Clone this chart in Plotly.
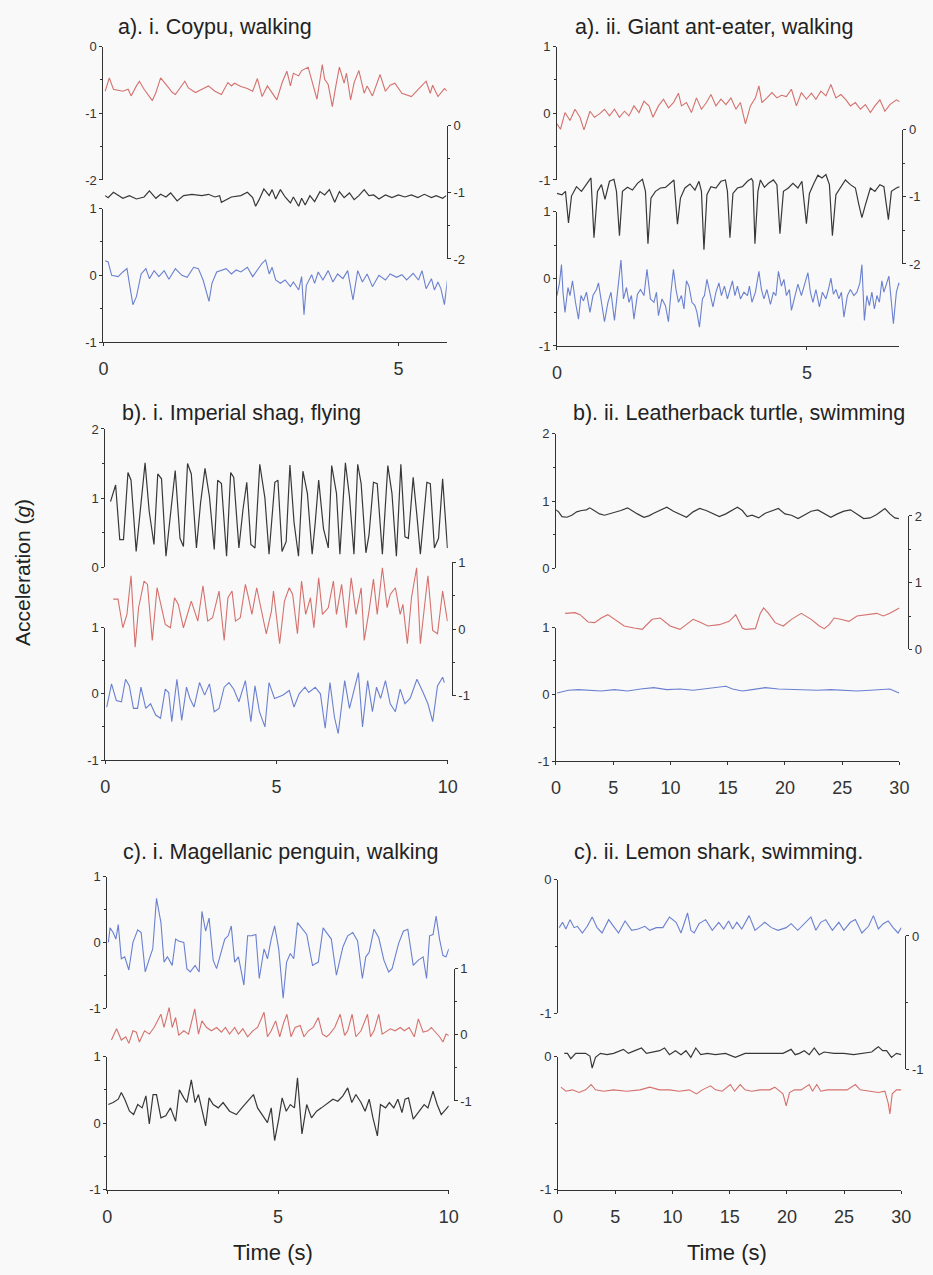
import plotly.graph_objects as go

W, H = 933, 1275

# ------------------------------------------------------------------ data
# a) i. Coypu, walking
coypu_t_red = [0.03,0.10,0.17,0.33,0.42,0.47,0.56,0.61,0.69,0.83,0.89,0.97,1.08,1.17,1.22,1.28,1.38,1.44,1.56,1.67,1.78,1.89,2.00,2.11,2.17,2.22,2.33,2.44,2.53,2.61,2.69,2.78,2.86,2.94,3.03,3.11,3.17,3.22,3.31,3.36,3.47,3.56,3.62,3.71,3.75,3.81,3.88,3.94,4.00,4.08,4.12,4.19,4.25,4.33,4.42,4.47,4.56,4.69,4.78,4.86,4.94,5.06,5.22,5.36,5.47,5.54,5.58,5.67,5.78,5.83]
coypu_red = [-0.67,-0.47,-0.64,-0.67,-0.64,-0.74,-0.59,-0.52,-0.64,-0.81,-0.69,-0.47,-0.59,-0.69,-0.72,-0.64,-0.52,-0.62,-0.69,-0.64,-0.59,-0.67,-0.72,-0.54,-0.59,-0.55,-0.60,-0.63,-0.67,-0.48,-0.75,-0.59,-0.70,-0.80,-0.54,-0.37,-0.59,-0.40,-0.44,-0.36,-0.31,-0.59,-0.79,-0.27,-0.49,-0.57,-0.90,-0.59,-0.31,-0.55,-0.40,-0.80,-0.54,-0.36,-0.70,-0.59,-0.74,-0.42,-0.67,-0.58,-0.55,-0.70,-0.75,-0.62,-0.52,-0.70,-0.58,-0.75,-0.63,-0.67]
coypu_t_black = [0.03,0.08,0.17,0.25,0.33,0.44,0.56,0.69,0.78,0.89,0.97,1.06,1.14,1.25,1.36,1.50,1.67,1.78,1.89,1.97,2.00,2.17,2.33,2.44,2.53,2.58,2.64,2.72,2.81,2.86,2.92,3.00,3.08,3.17,3.22,3.31,3.36,3.42,3.50,3.58,3.67,3.75,3.83,3.92,4.00,4.08,4.17,4.25,4.33,4.42,4.50,4.58,4.67,4.78,4.89,5.00,5.11,5.22,5.33,5.44,5.56,5.64,5.75,5.81]
coypu_black = [-1.05,-1.08,-1.00,-1.05,-1.09,-1.05,-1.10,-1.07,-0.98,-1.09,-1.03,-1.07,-1.01,-1.13,-1.05,-1.03,-1.05,-1.03,-1.07,-1.05,-1.15,-1.07,-1.05,-1.00,-1.08,-1.21,-1.11,-0.95,-1.05,-0.96,-1.10,-0.96,-1.07,-1.16,-1.07,-1.21,-1.09,-1.19,-1.05,-1.14,-0.99,-1.04,-0.96,-1.15,-0.99,-1.08,-1.01,-1.11,-1.05,-0.96,-1.05,-1.04,-1.10,-1.04,-1.08,-1.04,-1.07,-1.04,-1.08,-1.03,-1.08,-1.05,-1.09,-1.05]
coypu_t_blue = [0.03,0.08,0.14,0.25,0.33,0.40,0.44,0.50,0.56,0.64,0.72,0.78,0.86,0.94,1.03,1.11,1.22,1.33,1.42,1.53,1.61,1.69,1.79,1.84,1.92,2.00,2.08,2.17,2.25,2.33,2.44,2.53,2.61,2.69,2.75,2.81,2.86,2.92,3.00,3.08,3.17,3.22,3.31,3.36,3.40,3.44,3.53,3.58,3.64,3.72,3.81,3.89,3.97,4.06,4.14,4.23,4.31,4.39,4.47,4.56,4.67,4.78,4.86,4.97,5.06,5.14,5.25,5.34,5.40,5.47,5.56,5.61,5.67,5.72,5.78,5.83]
coypu_blue = [0.22,0.20,0.00,-0.02,0.05,0.10,-0.12,-0.44,-0.32,0.02,0.10,-0.05,0.07,-0.02,0.07,-0.06,0.10,0.00,-0.03,0.12,0.10,-0.07,-0.39,-0.12,0.05,0.07,0.10,0.02,0.08,0.05,0.12,-0.02,0.08,0.18,0.23,0.02,0.12,-0.07,-0.12,-0.07,-0.17,-0.10,-0.22,-0.02,-0.59,-0.15,0.01,-0.12,0.05,-0.07,0.07,-0.10,0.02,-0.05,0.07,-0.37,0.07,-0.10,0.02,-0.17,0.00,-0.07,0.02,-0.03,0.01,-0.07,0.03,-0.07,0.07,-0.20,-0.05,-0.22,-0.10,-0.20,-0.44,-0.07]

# a) ii. Giant ant-eater, walking
anteater_t_red = [0.00,0.07,0.16,0.26,0.36,0.46,0.54,0.66,0.75,0.85,0.95,1.05,1.15,1.25,1.35,1.44,1.54,1.64,1.74,1.84,1.92,2.03,2.13,2.23,2.33,2.43,2.49,2.59,2.69,2.79,2.89,2.99,3.08,3.18,3.28,3.38,3.48,3.58,3.67,3.77,3.87,3.97,4.04,4.10,4.20,4.30,4.40,4.49,4.59,4.69,4.79,4.89,4.99,5.09,5.18,5.28,5.38,5.48,5.58,5.68,5.77,5.87,5.97,6.07,6.17,6.27,6.36,6.46,6.56,6.66,6.79,6.89]
anteater_red = [-0.16,-0.24,0.01,-0.11,0.06,-0.06,-0.25,0.03,-0.06,-0.01,0.06,-0.04,0.06,-0.06,0.03,-0.04,0.11,0.01,0.18,0.11,-0.06,0.11,0.21,0.08,0.16,0.30,0.11,0.16,0.01,0.23,0.06,0.16,0.28,0.11,0.21,0.13,0.23,0.06,0.16,-0.16,0.11,0.23,0.41,0.16,0.23,0.31,0.23,0.27,0.25,0.36,0.11,0.31,0.21,0.30,0.21,0.33,0.26,0.43,0.23,0.28,0.21,0.11,0.16,0.06,0.13,0.01,0.11,0.20,0.03,0.13,0.20,0.16]
anteater_t_black = [0.00,0.10,0.17,0.23,0.29,0.39,0.49,0.59,0.68,0.74,0.81,0.89,0.96,1.05,1.14,1.19,1.25,1.31,1.41,1.51,1.61,1.71,1.77,1.82,1.88,1.97,2.07,2.17,2.26,2.34,2.41,2.47,2.56,2.66,2.76,2.84,2.89,2.94,3.00,3.08,3.18,3.28,3.37,3.41,3.46,3.52,3.61,3.71,3.81,3.89,3.92,3.96,4.02,4.07,4.15,4.23,4.33,4.40,4.46,4.53,4.63,4.72,4.82,4.90,4.99,5.05,5.14,5.22,5.30,5.38,5.45,5.51,5.58,5.68,5.77,5.87,5.97,6.04,6.10,6.17,6.27,6.36,6.46,6.54,6.63,6.69,6.79,6.86]
anteater_black = [-0.95,-0.97,-0.92,-1.39,-0.99,-0.85,-0.92,-0.82,-0.72,-1.61,-0.92,-0.82,-1.04,-0.77,-0.74,-0.92,-1.58,-0.92,-0.86,-0.90,-0.80,-0.74,-0.92,-1.70,-1.02,-0.92,-0.87,-0.86,-0.80,-0.75,-1.41,-1.02,-0.87,-0.81,-0.90,-0.77,-0.92,-1.79,-0.97,-0.85,-0.87,-0.77,-0.75,-0.92,-1.61,-0.95,-0.87,-0.85,-0.77,-0.73,-0.77,-1.70,-0.92,-0.75,-0.86,-0.80,-0.75,-0.82,-1.55,-0.92,-0.87,-0.80,-0.87,-0.77,-1.40,-0.95,-0.80,-0.68,-0.72,-0.67,-0.82,-1.58,-0.97,-0.85,-0.75,-0.82,-0.87,-1.12,-1.31,-1.12,-0.87,-0.92,-0.82,-0.85,-1.34,-0.92,-0.87,-0.85]
anteater_t_blue = [0.00,0.05,0.09,0.12,0.16,0.22,0.26,0.31,0.37,0.43,0.48,0.53,0.59,0.66,0.72,0.79,0.83,0.89,0.95,1.02,1.08,1.15,1.21,1.28,1.33,1.39,1.44,1.49,1.54,1.61,1.67,1.74,1.80,1.87,1.94,1.99,2.03,2.10,2.17,2.23,2.28,2.33,2.38,2.43,2.49,2.54,2.59,2.64,2.70,2.76,2.80,2.85,2.91,2.95,3.00,3.05,3.12,3.18,3.24,3.29,3.35,3.41,3.46,3.51,3.56,3.61,3.67,3.74,3.81,3.85,3.90,3.97,4.04,4.09,4.14,4.20,4.27,4.33,4.38,4.43,4.49,4.54,4.59,4.65,4.69,4.76,4.82,4.89,4.95,5.02,5.07,5.12,5.18,5.25,5.31,5.38,5.43,5.48,5.53,5.58,5.64,5.69,5.74,5.81,5.87,5.94,6.00,6.06,6.10,6.15,6.20,6.25,6.30,6.35,6.40,6.45,6.50,6.54,6.59,6.64,6.69,6.73,6.79,6.84,6.88]
anteater_blue = [-0.25,-0.06,0.21,-0.20,-0.50,-0.13,-0.25,-0.03,-0.35,-0.60,-0.25,-0.33,-0.20,-0.50,-0.25,-0.16,-0.06,-0.35,-0.64,-0.35,-0.20,-0.62,-0.20,0.28,-0.30,-0.13,-0.35,-0.25,-0.60,-0.23,-0.16,-0.25,0.14,-0.30,-0.35,-0.20,-0.55,-0.30,-0.40,-0.64,-0.20,0.14,-0.16,-0.35,-0.25,-0.45,-0.03,-0.11,-0.35,-0.40,-0.50,-0.72,-0.30,-0.25,-0.01,-0.20,-0.42,-0.20,-0.06,-0.25,-0.11,-0.30,-0.16,-0.03,-0.25,-0.11,-0.30,-0.20,-0.25,-0.11,-0.35,-0.20,0.11,-0.16,-0.30,-0.16,-0.38,-0.20,-0.25,0.11,-0.11,-0.01,-0.25,-0.16,-0.47,-0.25,-0.08,-0.25,-0.11,0.09,-0.20,-0.35,-0.16,-0.42,-0.20,-0.30,-0.16,0.01,-0.23,-0.16,-0.30,-0.20,-0.57,-0.25,-0.16,-0.25,-0.20,-0.06,0.21,-0.62,-0.25,-0.40,-0.20,-0.45,-0.25,-0.35,-0.03,-0.20,-0.08,0.04,-0.35,-0.67,-0.20,-0.06,-0.11]

# b) i. Imperial shag, flying
shag_t_black = [0.15,0.30,0.42,0.53,0.66,0.75,0.90,1.01,1.16,1.28,1.42,1.53,1.64,1.77,1.90,2.04,2.18,2.28,2.40,2.51,2.66,2.78,2.91,3.04,3.18,3.28,3.39,3.54,3.66,3.75,3.90,4.02,4.13,4.25,4.37,4.51,4.66,4.78,4.95,5.04,5.16,5.28,5.39,5.51,5.64,5.77,5.90,6.04,6.13,6.23,6.37,6.51,6.61,6.75,6.85,7.01,7.13,7.26,7.37,7.47,7.61,7.70,7.83,7.94,8.09,8.25,8.37,8.50,8.63,8.75,8.85,8.99,9.10,9.20,9.39,9.49,9.61,9.73,9.85,9.99]
shag_black = [0.95,1.19,0.40,0.40,1.37,1.26,0.23,0.74,1.51,0.81,0.33,1.35,1.28,0.16,0.74,1.40,0.42,0.30,1.50,1.35,0.28,0.93,1.43,1.02,0.26,1.26,1.21,0.16,1.37,1.30,0.28,0.84,1.23,0.33,0.28,1.49,1.00,0.19,1.23,1.26,0.23,0.37,1.48,0.65,0.16,1.39,1.07,0.19,0.65,1.26,0.56,0.28,1.47,1.07,0.19,1.51,1.02,0.19,1.49,1.21,0.21,0.47,1.23,1.21,0.19,1.47,1.07,0.16,1.49,0.44,0.42,1.30,0.74,0.19,1.23,1.21,0.28,0.42,1.28,0.28]
shag_t_red = [0.23,0.37,0.51,0.63,0.75,0.87,0.97,1.13,1.23,1.37,1.51,1.75,1.90,2.02,2.13,2.28,2.51,2.70,2.85,2.99,3.13,3.32,3.47,3.58,3.70,3.80,3.94,4.09,4.18,4.28,4.42,4.56,4.70,4.85,4.91,5.09,5.23,5.37,5.47,5.61,5.73,5.85,5.99,6.09,6.23,6.34,6.51,6.66,6.75,6.90,7.04,7.18,7.32,7.47,7.56,7.70,7.83,7.94,8.09,8.23,8.32,8.47,8.61,8.69,8.82,8.94,9.09,9.20,9.42,9.56,9.70,9.85,9.99]
shag_red = [0.45,0.45,0.02,0.22,0.80,-0.27,0.32,0.72,0.67,-0.17,0.62,0.07,0.02,0.47,0.37,0.02,0.42,0.12,0.65,0.12,0.17,0.57,-0.17,0.47,0.57,0.12,0.17,0.67,0.47,0.22,0.62,0.27,-0.07,0.27,0.57,-0.22,0.42,0.62,0.52,-0.07,0.72,0.22,0.47,0.02,0.77,0.22,0.32,0.72,0.22,0.67,0.02,0.77,0.22,0.62,-0.17,0.27,0.75,0.22,0.92,0.32,0.52,0.62,0.22,0.37,-0.22,0.47,0.92,-0.22,0.80,-0.02,-0.07,0.57,0.12]
shag_t_blue = [0.04,0.18,0.32,0.47,0.59,0.70,0.82,0.94,1.04,1.18,1.32,1.47,1.61,1.75,1.85,1.94,2.09,2.23,2.37,2.47,2.59,2.75,2.90,3.04,3.18,3.32,3.47,3.61,3.75,3.90,4.09,4.25,4.37,4.50,4.66,4.78,4.94,5.18,5.37,5.51,5.66,5.83,5.94,6.13,6.28,6.42,6.56,6.69,6.80,6.99,7.13,7.28,7.39,7.51,7.66,7.80,7.92,8.04,8.18,8.32,8.47,8.61,8.75,8.90,9.10,9.28,9.42,9.56,9.70,9.85,9.90]
shag_blue = [-0.20,0.15,-0.10,-0.12,0.22,0.12,-0.22,-0.22,0.10,-0.22,-0.15,-0.32,-0.37,0.07,0.02,-0.42,0.22,-0.40,0.10,-0.07,-0.20,0.17,-0.02,0.15,-0.27,-0.22,0.10,0.17,0.07,-0.12,0.20,-0.42,0.12,-0.27,-0.50,0.17,-0.07,-0.02,0.05,-0.20,0.00,0.10,0.02,0.10,0.00,-0.52,0.17,-0.35,-0.60,0.20,-0.22,0.07,0.32,-0.50,0.20,-0.27,0.10,-0.07,0.20,-0.15,-0.27,0.07,-0.15,-0.07,0.22,0.02,-0.15,-0.42,0.12,0.25,0.17]

# b) ii. Leatherback turtle, swimming
turtle_t_black = [0.00,0.23,0.52,0.95,1.38,1.81,2.23,2.66,2.95,3.38,3.81,4.24,4.67,5.10,5.67,6.25,6.68,7.11,7.68,8.11,8.54,9.11,9.68,10.26,10.83,11.40,11.98,12.55,13.12,13.70,14.27,14.84,15.42,15.85,16.28,16.70,17.13,17.71,18.28,18.85,19.43,20.00,20.57,21.15,21.72,22.29,22.87,23.44,24.01,24.58,25.16,25.73,26.30,26.88,27.45,28.02,28.74,29.17,29.60,29.95]
turtle_black = [0.87,0.84,0.77,0.76,0.79,0.84,0.86,0.87,0.90,0.86,0.81,0.79,0.81,0.84,0.86,0.90,0.85,0.81,0.76,0.78,0.82,0.87,0.91,0.85,0.80,0.76,0.84,0.89,0.86,0.81,0.77,0.81,0.87,0.91,0.86,0.77,0.79,0.75,0.82,0.86,0.89,0.81,0.79,0.74,0.80,0.85,0.87,0.81,0.76,0.81,0.85,0.87,0.81,0.74,0.75,0.80,0.89,0.81,0.75,0.74]
turtle_t_red = [0.80,1.66,2.09,2.81,3.38,3.95,4.53,5.10,5.96,6.82,7.54,7.82,8.40,9.11,9.97,10.83,11.40,11.98,12.55,13.27,14.27,15.13,15.70,16.28,16.56,17.42,17.85,18.14,18.57,19.14,19.86,20.57,21.43,22.29,23.01,23.44,23.87,24.30,24.87,25.59,26.30,27.16,28.02,28.60,29.17,30.00]
turtle_red = [0.54,0.55,0.52,0.41,0.40,0.47,0.52,0.45,0.35,0.32,0.30,0.35,0.45,0.47,0.35,0.30,0.37,0.45,0.41,0.35,0.37,0.42,0.52,0.32,0.30,0.31,0.54,0.62,0.54,0.40,0.35,0.45,0.54,0.45,0.35,0.31,0.37,0.47,0.45,0.42,0.50,0.52,0.54,0.50,0.54,0.62]
turtle_t_blue = [0.09,1.09,1.95,2.81,3.95,5.10,6.25,7.39,8.54,9.68,10.83,11.98,13.12,14.27,14.84,15.42,16.28,17.13,18.28,19.43,20.57,21.72,22.87,24.01,25.16,26.30,27.45,28.60,29.17,29.97]
turtle_blue = [0.02,0.06,0.07,0.06,0.05,0.07,0.05,0.08,0.10,0.07,0.08,0.06,0.08,0.11,0.12,0.08,0.05,0.07,0.10,0.08,0.07,0.06,0.06,0.07,0.06,0.05,0.06,0.07,0.08,0.02]

# c) i. Magellanic penguin, walking
penguin_t_blue = [0.03,0.08,0.17,0.25,0.32,0.41,0.51,0.63,0.75,0.89,0.99,1.11,1.23,1.33,1.44,1.57,1.66,1.76,1.90,2.00,2.09,2.24,2.33,2.43,2.57,2.69,2.77,2.88,2.98,3.10,3.20,3.29,3.44,3.54,3.63,3.73,3.84,4.00,4.11,4.23,4.35,4.45,4.59,4.69,4.80,4.90,5.02,5.15,5.25,5.36,5.46,5.57,5.70,5.84,6.01,6.18,6.32,6.42,6.56,6.71,6.90,7.04,7.19,7.33,7.47,7.57,7.67,7.81,7.95,8.10,8.24,8.34,8.53,8.67,8.80,8.96,9.11,9.25,9.35,9.44,9.54,9.63,9.73,9.83,9.92,10.00]
penguin_blue = [0.00,0.22,0.15,0.05,0.27,-0.25,-0.22,-0.42,0.00,0.19,0.15,-0.45,-0.25,-0.10,0.67,0.30,-0.30,-0.22,-0.35,0.05,0.02,0.00,-0.40,-0.45,-0.35,-0.45,0.47,0.17,0.37,-0.27,-0.40,-0.22,0.05,0.10,0.25,-0.30,-0.22,-0.65,0.10,0.10,0.12,-0.55,-0.10,-0.25,0.05,0.25,-0.10,-0.85,-0.30,-0.17,-0.25,0.30,0.22,0.12,-0.35,-0.30,0.22,0.15,0.05,-0.50,-0.07,0.10,0.15,0.02,-0.55,-0.22,-0.15,0.20,0.07,-0.27,-0.45,-0.40,-0.02,0.17,0.20,-0.35,-0.27,-0.22,-0.55,0.10,0.12,0.40,0.05,-0.20,-0.22,-0.10]
penguin_t_red = [0.12,0.27,0.41,0.54,0.63,0.75,0.85,0.94,1.09,1.23,1.37,1.57,1.66,1.81,1.90,2.00,2.09,2.24,2.38,2.56,2.67,2.77,2.91,3.05,3.20,3.34,3.46,3.58,3.73,3.84,3.97,4.11,4.26,4.40,4.59,4.69,4.80,4.93,5.05,5.17,5.26,5.38,5.50,5.65,5.76,5.89,6.03,6.18,6.30,6.42,6.51,6.66,6.82,6.95,7.04,7.17,7.28,7.43,7.62,7.71,7.81,7.95,8.05,8.15,8.29,8.43,8.58,8.70,8.84,8.99,9.11,9.25,9.39,9.49,9.61,9.73,9.83,9.92,10.00]
penguin_red = [-0.08,0.09,-0.08,-0.03,-0.13,0.06,0.04,-0.11,0.06,0.01,0.11,0.31,0.11,0.41,0.11,0.26,-0.01,0.06,0.01,0.39,0.01,0.21,0.11,0.06,0.11,0.04,0.11,0.01,0.11,0.01,0.09,-0.03,0.06,0.11,0.34,-0.03,0.06,0.21,-0.03,0.19,0.31,-0.03,0.11,0.14,-0.03,0.06,0.11,0.26,0.01,-0.03,0.01,0.11,0.31,-0.01,0.06,0.31,-0.03,0.06,0.31,-0.03,0.06,0.31,0.01,0.04,0.09,0.06,0.11,0.06,0.11,-0.03,0.24,0.04,0.06,0.11,0.04,-0.03,-0.11,0.01,-0.01]
penguin_t_black = [0.03,0.17,0.32,0.41,0.51,0.65,0.77,0.89,1.02,1.13,1.23,1.34,1.44,1.57,1.71,1.85,2.00,2.11,2.24,2.33,2.46,2.57,2.67,2.77,2.88,2.98,3.10,3.25,3.39,3.58,3.78,3.94,4.11,4.28,4.40,4.54,4.69,4.80,4.90,5.02,5.12,5.24,5.36,5.48,5.57,5.70,5.84,5.98,6.13,6.27,6.46,6.61,6.75,6.90,7.04,7.16,7.28,7.43,7.55,7.67,7.78,7.91,8.00,8.15,8.26,8.39,8.51,8.63,8.72,8.82,8.96,9.13,9.28,9.39,9.54,9.66,9.78,9.92,10.00]
penguin_black = [0.28,0.31,0.36,0.46,0.36,0.18,0.13,0.28,0.23,0.41,-0.01,0.43,0.43,0.08,0.11,0.23,0.03,0.50,0.38,0.31,0.65,0.31,0.43,0.18,-0.04,0.38,0.28,0.23,0.31,0.18,0.13,0.23,0.33,0.43,0.23,0.13,0.01,0.23,-0.26,0.06,0.38,0.18,0.28,0.23,0.68,-0.16,0.28,0.08,0.18,0.23,0.31,0.36,0.33,0.41,0.53,0.31,0.43,0.31,0.18,0.36,0.08,-0.19,0.28,0.23,0.31,0.23,0.36,0.16,0.36,0.38,0.06,0.18,0.28,0.23,0.48,0.28,0.13,0.21,0.26]

# c) ii. Lemon shark, swimming
shark_t_blue = [0.11,0.40,0.69,1.06,1.41,1.70,2.13,2.56,2.99,3.42,3.85,4.43,4.86,5.29,5.86,6.44,7.01,7.59,8.02,8.59,9.17,9.74,10.32,10.75,11.32,11.61,11.90,12.33,12.90,13.48,14.05,14.48,14.91,15.26,15.63,16.06,16.70,17.21,17.64,18.07,18.65,19.22,19.94,20.37,20.95,21.52,22.10,22.53,22.96,23.39,23.97,24.54,24.97,25.55,25.98,26.55,27.13,27.56,27.99,28.42,28.85,29.28,29.71,30.00]
shark_blue = [-0.36,-0.32,-0.37,-0.30,-0.36,-0.35,-0.40,-0.35,-0.28,-0.36,-0.40,-0.30,-0.35,-0.40,-0.31,-0.38,-0.37,-0.35,-0.38,-0.36,-0.36,-0.28,-0.32,-0.40,-0.25,-0.38,-0.40,-0.33,-0.30,-0.38,-0.32,-0.37,-0.31,-0.37,-0.32,-0.37,-0.27,-0.38,-0.35,-0.32,-0.36,-0.38,-0.36,-0.33,-0.38,-0.33,-0.28,-0.38,-0.32,-0.30,-0.38,-0.32,-0.38,-0.32,-0.30,-0.40,-0.35,-0.27,-0.37,-0.33,-0.31,-0.36,-0.40,-0.36]
shark_t_black = [0.55,0.83,1.12,1.55,1.98,2.41,2.79,2.99,3.28,3.71,4.28,4.86,5.72,6.15,6.72,7.30,7.73,8.30,8.88,9.31,9.74,10.26,10.75,11.18,11.61,12.04,12.47,13.05,13.76,14.63,15.49,16.35,17.21,18.07,18.94,19.66,20.37,20.72,21.09,21.52,21.95,22.39,22.82,23.25,24.11,24.97,25.83,26.70,27.41,27.70,27.99,28.36,28.71,29.14,29.57,30.00]
shark_black = [-0.88,-0.88,-0.92,-0.88,-0.88,-0.88,-0.90,-0.99,-0.91,-0.88,-0.89,-0.88,-0.85,-0.88,-0.86,-0.84,-0.88,-0.87,-0.86,-0.84,-0.89,-0.86,-0.89,-0.86,-0.91,-0.84,-0.89,-0.88,-0.89,-0.88,-0.91,-0.88,-0.88,-0.88,-0.88,-0.88,-0.85,-0.89,-0.88,-0.86,-0.89,-0.84,-0.89,-0.87,-0.88,-0.88,-0.89,-0.88,-0.87,-0.85,-0.83,-0.86,-0.86,-0.91,-0.88,-0.89]
shark_t_red = [0.26,0.69,1.26,1.84,2.41,2.90,3.28,3.99,4.86,6.01,7.16,8.02,8.88,9.74,10.60,11.47,12.10,12.61,13.33,13.76,14.34,15.06,15.43,15.92,16.35,16.93,17.64,18.51,18.94,19.37,19.66,19.94,20.23,20.66,21.24,21.95,22.24,22.61,22.96,23.53,24.40,25.26,25.98,26.41,27.27,27.99,28.56,28.85,29.00,29.20,29.57,30.00]
shark_red = [-0.23,-0.26,-0.25,-0.27,-0.25,-0.21,-0.25,-0.26,-0.25,-0.26,-0.25,-0.23,-0.25,-0.25,-0.26,-0.25,-0.28,-0.25,-0.22,-0.25,-0.26,-0.21,-0.26,-0.21,-0.25,-0.26,-0.25,-0.25,-0.23,-0.26,-0.28,-0.37,-0.27,-0.25,-0.25,-0.21,-0.26,-0.21,-0.26,-0.25,-0.25,-0.25,-0.21,-0.25,-0.26,-0.27,-0.26,-0.35,-0.43,-0.28,-0.25,-0.25]

# ------------------------------------------------------------------ style
RED = "#d4716d"
BLACK = "#383838"
BLUE = "#6a80d0"
AXC = "#333333"
FONT = "Arial, Liberation Sans, Helvetica, sans-serif"
BG = "#f9f9f9"


def tk(v):
    return "%g" % v


PANELS = [
    dict(title="a). i. Coypu, walking", txy=(213, 20),
         xpx=(100, 449), xr=(0, 5.82), xt=[0, 5],
         upper=dict(px=(40, 175), r=(-2, 0), t=[-2, -1, 0]),
         lower=dict(px=(204, 339), r=(-1, 1), t=[-1, 0, 1]),
         right=dict(px=(120, 255), r=(-2, 0), t=[-2, -1, 0], pos=449),
         traces=[(coypu_t_red, coypu_red, "upper", RED),
                 (coypu_t_black, coypu_black, "right", BLACK),
                 (coypu_t_blue, coypu_blue, "lower", BLUE)]),
    dict(title="a). ii. Giant ant-eater, walking", txy=(721, 20),
         xpx=(561, 909), xr=(0, 6.85), xt=[0, 5],
         upper=dict(px=(40, 175), r=(-1, 1), t=[-1, 0, 1]),
         lower=dict(px=(207, 343), r=(-1, 1), t=[-1, 0, 1]),
         right=dict(px=(124, 260), r=(-2, 0), t=[-2, -1, 0], pos=912),
         traces=[(anteater_t_red, anteater_red, "upper", RED),
                 (anteater_t_black, anteater_black, "right", BLACK),
                 (anteater_t_blue, anteater_blue, "lower", BLUE)]),
    dict(title="b). i. Imperial shag, flying", txy=(240, 411),
         xpx=(102, 450), xr=(0, 10), xt=[0, 5, 10],
         upper=dict(px=(427, 567), r=(0, 2), t=[0, 1, 2]),
         lower=dict(px=(628, 762), r=(-1, 1), t=[-1, 0, 1]),
         right=dict(px=(562, 697), r=(-1, 1), t=[-1, 0, 1], pos=454),
         traces=[(shag_t_black, shag_black, "upper", BLACK),
                 (shag_t_red, shag_red, "right", RED),
                 (shag_t_blue, shag_blue, "lower", BLUE)]),
    dict(title="b). ii. Leatherback turtle, swimming", txy=(746, 411),
         xpx=(560, 909), xr=(0, 30), xt=[0, 5, 10, 15, 20, 25, 30],
         upper=dict(px=(432, 568), r=(0, 2), t=[0, 1, 2]),
         lower=dict(px=(628, 763), r=(-1, 1), t=[-1, 0, 1]),
         right=dict(px=(515, 650), r=(0, 2), t=[0, 1, 2], pos=918),
         traces=[(turtle_t_black, turtle_black, "upper", BLACK),
                 (turtle_t_red, turtle_red, "right", RED),
                 (turtle_t_blue, turtle_blue, "lower", BLUE)]),
    dict(title="c). i. Magellanic penguin, walking", txy=(281, 855),
         xpx=(104, 451), xr=(0, 10), xt=[0, 5, 10],
         upper=dict(px=(880, 1013), r=(-1, 1), t=[-1, 0, 1]),
         lower=dict(px=(1062, 1197), r=(-1, 1), t=[-1, 0, 1]),
         right=dict(px=(973, 1107), r=(-1, 1), t=[-1, 0, 1], pos=456),
         traces=[(penguin_t_blue, penguin_blue, "upper", BLUE),
                 (penguin_t_red, penguin_red, "right", RED),
                 (penguin_t_black, penguin_black, "lower", BLACK)]),
    dict(title="c). ii. Lemon shark, swimming.", txy=(725, 855),
         xpx=(562, 911), xr=(0, 30), xt=[0, 5, 10, 15, 20, 25, 30],
         upper=dict(px=(883, 1018), r=(-1, 0), t=[-1, 0]),
         lower=dict(px=(1062, 1197), r=(-1, 0), t=[-1, 0]),
         right=dict(px=(940, 1075), r=(-1, 0), t=[-1, 0], pos=915),
         traces=[(shark_t_blue, shark_blue, "upper", BLUE),
                 (shark_t_black, shark_black, "right", BLACK),
                 (shark_t_red, shark_red, "lower", RED)]),
]


def ydom(px):
    top, bot = px
    return [1 - bot / H, 1 - top / H]


def minor_vals(r):
    lo, hi = r
    vals = []
    v = lo
    while v <= hi + 1e-9:
        vals.append(round(v, 3))
        v += 0.5
    return vals


fig = go.Figure()
layout = {}
annotations = []

for k, p in enumerate(PANELS):
    xi = k + 1
    xname = "xaxis" if xi == 1 else "xaxis%d" % xi
    xref = "x" if xi == 1 else "x%d" % xi
    ids = {key: 3 * k + j + 1 for j, key in enumerate(["upper", "lower", "right"])}
    yref = {key: ("y" if v == 1 else "y%d" % v) for key, v in ids.items()}

    layout[xname] = dict(
        domain=[p["xpx"][0] / W, p["xpx"][1] / W], range=list(p["xr"]),
        anchor=yref["lower"], showline=True, linecolor=AXC, linewidth=1,
        ticks="outside", ticklen=3, tickcolor=AXC, tickvals=p["xt"],
        ticktext=[tk(v) for v in p["xt"]], showgrid=False, zeroline=False,
        tickfont=dict(family=FONT, size=18, color="#333"),
        ticklabelstandoff=7, fixedrange=True,
    )
    for key in ["upper", "lower", "right"]:
        a = p[key]
        yi = ids[key]
        yname = "yaxis" if yi == 1 else "yaxis%d" % yi
        d = dict(
            domain=ydom(a["px"]), range=list(a["r"]), showline=True,
            linecolor=AXC, linewidth=1, ticks="outside", ticklen=3,
            tickcolor=AXC, tickvals=a["t"], ticktext=[tk(v) for v in a["t"]],
            showgrid=False, zeroline=False,
            tickfont=dict(family=FONT, size=13, color="#333"),
            minor=dict(tickvals=minor_vals(a["r"]), ticks="outside",
                       ticklen=2, tickcolor=AXC, showgrid=False),
            fixedrange=True,
        )
        if key == "right":
            d.update(side="right", anchor="free", position=a["pos"] / W)
        else:
            d.update(side="left", anchor=xref)
        layout[yname] = d

    for (tt, vv, key, col) in p["traces"]:
        fig.add_trace(go.Scatter(
            x=tt, y=vv, mode="lines", xaxis=xref, yaxis=yref[key],
            line=dict(color=col, width=1.2 if col == BLACK else 1.1),
            hoverinfo="skip", showlegend=False))

    annotations.append(dict(
        text=p["title"], x=p["txy"][0] / W, y=1 - p["txy"][1] / H,
        xref="paper", yref="paper", showarrow=False, xanchor="center",
        yanchor="middle", font=dict(family=FONT, size=21.5, color="#222")))

annotations.append(dict(
    text="Acceleration (<i>g</i>)", x=18 / W, y=1 - 572 / H, xref="paper",
    yref="paper", showarrow=False, textangle=-90, xanchor="center",
    yanchor="middle", font=dict(family=FONT, size=21, color="#222")))
for cx in (272, 734):
    annotations.append(dict(
        text="Time (s)", x=cx / W, y=1 - 1260 / H, xref="paper",
        yref="paper", showarrow=False, xanchor="center", yanchor="middle",
        font=dict(family=FONT, size=22, color="#222")))

fig.update_layout(
    width=W, height=H, autosize=False,
    margin=dict(l=0, r=0, t=0, b=0, pad=0),
    paper_bgcolor=BG, plot_bgcolor="rgba(0,0,0,0)",
    annotations=annotations, showlegend=False,
    **layout)

fig.write_html("out.html")
